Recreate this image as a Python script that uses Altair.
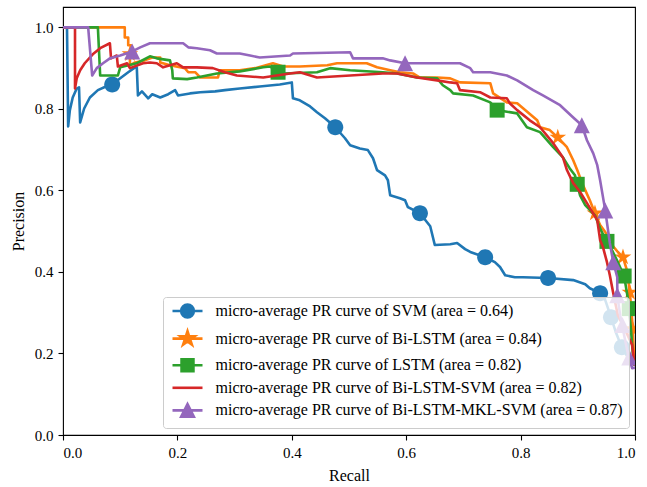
import altair as alt
import pandas as pd

SERIES = [
    "micro-average PR curve of SVM (area = 0.64)",
    "micro-average PR curve of Bi-LSTM (area = 0.84)",
    "micro-average PR curve of LSTM (area = 0.82)",
    "micro-average PR curve of Bi-LSTM-SVM (area = 0.82)",
    "micro-average PR curve of Bi-LSTM-MKL-SVM (area = 0.87)",
]
COLORS = ["#1f77b4", "#ff7f0e", "#2ca02c", "#d62728", "#9467bd"]

# ---- SVM ----
svm_recall = [0.0, 0.007, 0.009, 0.012, 0.017, 0.024, 0.028, 0.030, 0.037, 0.047, 0.061, 0.075, 0.086, 0.100,
              0.114, 0.126, 0.129, 0.131, 0.138, 0.149, 0.156, 0.170, 0.184, 0.196, 0.201, 0.222, 0.240, 0.266,
              0.283, 0.309, 0.344, 0.379, 0.400, 0.402, 0.414, 0.432, 0.444, 0.458, 0.476, 0.493, 0.502, 0.519,
              0.533, 0.542, 0.549, 0.563, 0.568, 0.572, 0.589, 0.598, 0.603, 0.624, 0.642, 0.650, 0.677, 0.689,
              0.703, 0.712, 0.738, 0.755, 0.764, 0.773, 0.790, 0.804, 0.848, 0.892, 0.913, 0.921, 0.939, 0.948,
              0.958, 0.967, 0.977, 0.990, 1.0]
svm_precision = [1.0, 1.0, 0.757, 0.797, 0.828, 0.850, 0.853, 0.767, 0.801, 0.828, 0.846, 0.855, 0.860, 0.875,
                 0.890, 0.902, 0.902, 0.833, 0.843, 0.826, 0.836, 0.828, 0.836, 0.846, 0.833, 0.838, 0.841, 0.843,
                 0.846, 0.850, 0.855, 0.860, 0.865, 0.826, 0.821, 0.806, 0.792, 0.777, 0.755, 0.728, 0.711, 0.703,
                 0.699, 0.679, 0.650, 0.637, 0.625, 0.588, 0.581, 0.576, 0.559, 0.544, 0.512, 0.466, 0.468, 0.471,
                 0.456, 0.449, 0.436, 0.424, 0.412, 0.392, 0.387, 0.387, 0.385, 0.380, 0.370, 0.360, 0.348, 0.331,
                 0.289, 0.250, 0.215, 0.185, 0.170]
svm_mark_recall = [0.086, 0.476, 0.624, 0.738, 0.848, 0.939, 0.958, 0.977]
svm_mark_precision = [0.860, 0.755, 0.544, 0.436, 0.385, 0.348, 0.289, 0.215]

# ---- Bi-LSTM ----
bilstm_recall = [0.0, 0.108, 0.108, 0.114, 0.114, 0.119, 0.119, 0.117, 0.117, 0.126, 0.143, 0.156, 0.170, 0.170,
                 0.187, 0.213, 0.219, 0.231, 0.240, 0.271, 0.274, 0.309, 0.336, 0.367, 0.385, 0.414, 0.462, 0.479,
                 0.531, 0.549, 0.572, 0.589, 0.612, 0.624, 0.654, 0.677, 0.694, 0.747, 0.752, 0.776, 0.794, 0.829,
                 0.834, 0.851, 0.865, 0.881, 0.892, 0.899, 0.909, 0.921, 0.930, 0.939, 0.948, 0.960, 0.970, 0.979,
                 0.986, 0.991, 0.995, 0.998, 1.0]
bilstm_precision = [1.0, 1.0, 0.975, 0.975, 0.956, 0.956, 0.926, 0.926, 0.907, 0.914, 0.919, 0.926, 0.926, 0.914,
                    0.907, 0.900, 0.890, 0.890, 0.877, 0.877, 0.895, 0.895, 0.900, 0.912, 0.904, 0.904, 0.907, 0.912,
                    0.912, 0.902, 0.895, 0.890, 0.887, 0.877, 0.877, 0.875, 0.865, 0.863, 0.838, 0.816, 0.814, 0.772,
                    0.755, 0.748, 0.730, 0.706, 0.674, 0.650, 0.613, 0.576, 0.544, 0.515, 0.498, 0.466, 0.449, 0.436,
                    0.404, 0.350, 0.282, 0.200, 0.170]
bilstm_mark_recall = [0.117, 0.865, 0.930, 0.979, 0.991, 0.996]
bilstm_mark_precision = [0.935, 0.730, 0.544, 0.436, 0.350, 0.260]

# ---- LSTM ----
lstm_recall = [0.0, 0.061, 0.065, 0.096, 0.100, 0.129, 0.152, 0.164, 0.187, 0.191, 0.192, 0.217, 0.234, 0.269,
               0.309, 0.350, 0.362, 0.376, 0.385, 0.444, 0.467, 0.502, 0.559, 0.584, 0.619, 0.654, 0.664, 0.677,
               0.682, 0.717, 0.747, 0.759, 0.794, 0.811, 0.834, 0.857, 0.874, 0.886, 0.895, 0.899, 0.904, 0.913,
               0.930, 0.939, 0.949, 0.960, 0.970, 0.981, 0.988, 0.993, 0.997, 1.0]
lstm_precision = [1.0, 1.0, 0.882, 0.882, 0.902, 0.912, 0.929, 0.924, 0.919, 0.895, 0.875, 0.873, 0.877, 0.887,
                  0.892, 0.902, 0.904, 0.890, 0.887, 0.890, 0.900, 0.895, 0.890, 0.887, 0.877, 0.875, 0.858, 0.846,
                  0.838, 0.833, 0.816, 0.797, 0.789, 0.755, 0.743, 0.706, 0.681, 0.654, 0.637, 0.615, 0.588, 0.564,
                  0.539, 0.507, 0.478, 0.453, 0.424, 0.390, 0.331, 0.257, 0.184, 0.170]
lstm_mark_recall = [0.376, 0.759, 0.899, 0.951, 0.981, 0.990]
lstm_mark_precision = [0.890, 0.797, 0.615, 0.475, 0.390, 0.310]

# ---- Bi-LSTM-SVM ----
bilstmsvm_recall = [0.0, 0.021, 0.021, 0.024, 0.030, 0.038, 0.052, 0.065, 0.082, 0.084, 0.094, 0.096, 0.112, 0.117,
                    0.140, 0.152, 0.164, 0.175, 0.199, 0.210, 0.234, 0.262, 0.283, 0.304, 0.350, 0.397, 0.414, 0.444,
                    0.502, 0.559, 0.584, 0.619, 0.654, 0.677, 0.689, 0.694, 0.729, 0.747, 0.776, 0.781, 0.794, 0.816,
                    0.834, 0.857, 0.874, 0.881, 0.892, 0.904, 0.916, 0.934, 0.939, 0.944, 0.951, 0.956, 0.962, 0.970,
                    0.983, 0.995, 0.998, 1.0]
bilstmsvm_precision = [1.0, 1.0, 0.850, 0.875, 0.895, 0.912, 0.934, 0.949, 0.961, 0.924, 0.931, 0.904, 0.912, 0.900,
                       0.912, 0.914, 0.912, 0.902, 0.912, 0.902, 0.902, 0.900, 0.890, 0.882, 0.877, 0.887, 0.890, 0.877,
                       0.882, 0.887, 0.887, 0.877, 0.870, 0.865, 0.863, 0.846, 0.841, 0.828, 0.826, 0.814, 0.797, 0.772,
                       0.755, 0.716, 0.681, 0.650, 0.618, 0.596, 0.569, 0.527, 0.478, 0.461, 0.424, 0.392, 0.348, 0.294,
                       0.257, 0.221, 0.184, 0.170]

# ---- Bi-LSTM-MKL-SVM ----
mkl_recall = [0.0, 0.044, 0.051, 0.059, 0.070, 0.082, 0.100, 0.121, 0.135, 0.152, 0.170, 0.210, 0.219, 0.234,
              0.257, 0.269, 0.309, 0.327, 0.344, 0.397, 0.402, 0.502, 0.507, 0.559, 0.572, 0.598, 0.642, 0.694,
              0.712, 0.717, 0.747, 0.776, 0.794, 0.822, 0.839, 0.869, 0.892, 0.907, 0.916, 0.927, 0.934, 0.939,
              0.948, 0.956, 0.962, 0.969, 0.969, 0.974, 0.981, 0.988, 0.995, 1.0]
mkl_precision = [1.0, 1.0, 0.882, 0.900, 0.912, 0.924, 0.931, 0.941, 0.951, 0.961, 0.961, 0.961, 0.951, 0.949,
                 0.944, 0.936, 0.936, 0.931, 0.926, 0.931, 0.936, 0.939, 0.924, 0.924, 0.919, 0.912, 0.912, 0.912,
                 0.900, 0.890, 0.890, 0.882, 0.870, 0.846, 0.833, 0.809, 0.779, 0.760, 0.723, 0.691, 0.662, 0.625,
                 0.551, 0.471, 0.424, 0.387, 0.343, 0.294, 0.245, 0.196, 0.164, 0.165]
mkl_mark_recall = [0.121, 0.598, 0.907, 0.948, 0.962, 0.969, 0.978, 0.990]
mkl_mark_precision = [0.941, 0.912, 0.760, 0.551, 0.424, 0.343, 0.270, 0.190]

line_recalls = [svm_recall, bilstm_recall, lstm_recall, bilstmsvm_recall, mkl_recall]
line_precisions = [svm_precision, bilstm_precision, lstm_precision, bilstmsvm_precision, mkl_precision]
mark_recalls = [svm_mark_recall, bilstm_mark_recall, lstm_mark_recall, [], mkl_mark_recall]
mark_precisions = [svm_mark_precision, bilstm_mark_precision, lstm_mark_precision, [], mkl_mark_precision]

# plot marker shapes (unit coordinates, drawn at size 306.25 -> 8.75 px per unit)
CIRCLE = "M0.914,0A0.914,0.914,0,1,1,-0.914,0A0.914,0.914,0,1,1,0.914,0Z"
STAR = ("M0,-1L0.223,-0.307L0.951,-0.309L0.361,0.117L0.588,0.809L0,0.38L-0.588,0.809"
        "L-0.361,0.117L-0.951,-0.309L-0.223,-0.307Z")
SQUARE = "M-0.857,-0.857H0.857V0.857H-0.857Z"
TRIANGLE = "M0,-0.914L0.914,0.914L-0.914,0.914Z"
MARKERS = [CIRCLE, STAR, SQUARE, None, TRIANGLE]

# legend symbols (line + marker), drawn at legend symbol size 144
LG_LINE = "M-2.5,0H2.5"
LG_CIRCLE = "M1.06,0A1.06,1.06,0,1,1,-1.06,0A1.06,1.06,0,1,1,1.06,0Z"
LG_STAR = ("M0,-1.23L0.274,-0.377L1.169,-0.380L0.444,0.144L0.723,0.995L0,0.467L-0.723,0.995"
           "L-0.444,0.144L-1.169,-0.380L-0.274,-0.377Z")
LG_SQUARE = "M-0.99,-0.99H0.99V0.99H-0.99Z"
LG_TRIANGLE = "M0,-1.06L1.06,1.06L-1.06,1.06Z"
LEGEND_SHAPES = [LG_LINE + LG_CIRCLE, LG_LINE + LG_STAR, LG_LINE + LG_SQUARE, LG_LINE, LG_LINE + LG_TRIANGLE]

line_rows = []
for name, rec, prec in zip(SERIES, line_recalls, line_precisions):
    for i, (r, p) in enumerate(zip(rec, prec)):
        line_rows.append({"series": name, "recall": r, "precision": p, "idx": i})
line_df = pd.DataFrame(line_rows)

mark_rows = []
for name, rec, prec in zip(SERIES, mark_recalls, mark_precisions):
    for r, p in zip(rec, prec):
        mark_rows.append({"series": name, "recall": r, "precision": p})
mark_df = pd.DataFrame(mark_rows)

FONT = "Liberation Serif"
TICKS = [0.0, 0.2, 0.4, 0.6, 0.8, 1.0]

x_enc = alt.X("recall:Q", scale=alt.Scale(domain=[0, 1], nice=False, zero=False),
              axis=alt.Axis(values=TICKS, format=".1f", title="Recall"))
y_enc = alt.Y("precision:Q", scale=alt.Scale(domain=[0, 1.05], nice=False, zero=False),
              axis=alt.Axis(values=TICKS, format=".1f", title="Precision"))

legend_kw = dict(
    title=None, orient="none", legendX=100, legendY=290, padding=6,
    fillColor="rgba(255,255,255,0.8)", strokeColor="#cccccc", cornerRadius=3,
    labelFont=FONT, labelFontSize=16, labelColor="black", labelLimit=600,
    symbolSize=144, symbolStrokeWidth=2.6, symbolOffset=10.5, labelOffset=20,
    symbolOpacity=1, rowPadding=2.6, zindex=1,
)

layers = []
for name, col, shape in zip(SERIES, COLORS, MARKERS):
    layers.append(
        alt.Chart(line_df).transform_filter(alt.datum.series == name)
        .mark_line(color=col, strokeWidth=2.6, clip=True, strokeJoin="round")
        .encode(x=x_enc, y=y_enc, order="idx:Q")
    )
    if shape:
        layers.append(
            alt.Chart(mark_df).transform_filter(alt.datum.series == name)
            .mark_point(shape=shape, filled=True, color=col, size=306.25, opacity=1, clip=True)
            .encode(x=x_enc, y=y_enc)
        )

carrier = alt.Chart(line_df).mark_point(opacity=0, filled=True, strokeWidth=2.6, clip=True).encode(
    x=x_enc, y=y_enc,
    fill=alt.Fill("series:N", scale=alt.Scale(domain=SERIES, range=COLORS), legend=alt.Legend(**legend_kw)),
    stroke=alt.Stroke("series:N", scale=alt.Scale(domain=SERIES, range=COLORS), legend=alt.Legend(**legend_kw)),
    shape=alt.Shape("series:N", scale=alt.Scale(domain=SERIES, range=LEGEND_SHAPES),
                    legend=alt.Legend(**legend_kw)),
)
layers.append(carrier)

chart = alt.layer(*layers).properties(
    width=572, height=428,
    autosize=alt.AutoSizeParams(type="none"),
    padding={"left": 63, "top": 7, "right": 12, "bottom": 52},
    background="white",
).configure_view(
    stroke="black", strokeWidth=1.1
).configure_axis(
    grid=False, domain=False, tickColor="black", tickSize=5, tickWidth=1.1,
    labelFont=FONT, labelFontSize=15, labelColor="black", labelPadding=5,
    titleFont=FONT, titleFontSize=16, titleFontWeight="normal", titleColor="black",
).configure_axisX(titlePadding=7).configure_axisY(titlePadding=8)

chart.save("out.html", embed_options={"renderer": "svg", "actions": False})
